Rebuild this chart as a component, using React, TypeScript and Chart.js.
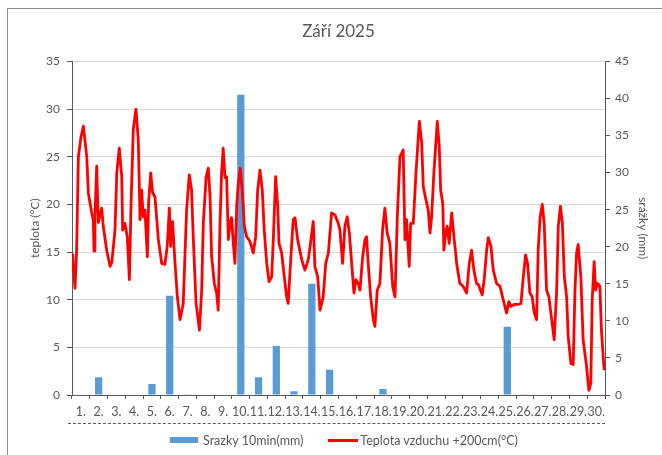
import React, { useEffect, useRef } from "react";
import { Chart, registerables } from "chart.js";

Chart.register(...registerables);

const FONT = "Lato, 'Open Sans', sans-serif";
const TEXT = "#595959";

const dayLabels = [
  "1.", "2.", "3.", "4.", "5.", "6.", "7.", "8.", "9.", "10.",
  "11.", "12.", "13.", "14.", "15.", "16.", "17.", "18.", "19.", "20.",
  "21.", "22.", "23.", "24.", "25.", "26.", "27.", "28.", "29.", "30.",
];

// daily precipitation (mm), right axis
const rainMm = [
  0, 2.4, 0, 0, 1.5, 13.4, 0.1, 0, 0, 40.5,
  2.4, 6.6, 0.5, 15.0, 3.4, 0, 0, 0.8, 0, 0,
  0, 0, 0, 0, 9.2, 0.1, 0, 0, 0, 0,
];

// time in days since start of 1 September
const tempTimes = [
  0.00, 0.04, 0.17, 0.26, 0.36, 0.50, 0.64, 0.83, 0.92, 1.11,
  1.20, 1.24, 1.29, 1.39, 1.48, 1.67, 1.76, 1.95, 2.14, 2.24,
  2.42, 2.52, 2.66, 2.80, 2.85, 2.98, 3.11, 3.23, 3.32, 3.45,
  3.60, 3.73, 3.83, 3.92, 4.01, 4.11, 4.24, 4.31, 4.43, 4.54,
  4.67, 4.86, 5.05, 5.23, 5.36, 5.48, 5.55, 5.66, 5.80, 5.93,
  6.08, 6.26, 6.45, 6.60, 6.73, 6.83, 6.98, 7.17, 7.30, 7.39,
  7.55, 7.67, 7.77, 7.86, 8.01, 8.14, 8.23, 8.33, 8.42, 8.51,
  8.61, 8.70, 8.80, 8.89, 8.98, 9.08, 9.17, 9.27, 9.36, 9.47,
  9.58, 9.70, 9.83, 10.02, 10.20, 10.34, 10.45, 10.58, 10.71, 10.82,
  10.96, 11.09, 11.24, 11.33, 11.46, 11.58, 11.65, 11.80, 11.95, 12.08,
  12.17, 12.32, 12.45, 12.55, 12.70, 12.93, 13.11, 13.30, 13.45, 13.58,
  13.67, 13.83, 13.96, 14.14, 14.28, 14.43, 14.61, 14.80, 14.99, 15.08,
  15.23, 15.36, 15.49, 15.61, 15.74, 15.87, 15.98, 16.11, 16.21, 16.36,
  16.49, 16.58, 16.67, 16.81, 16.96, 17.05, 17.18, 17.33, 17.48, 17.61,
  17.74, 17.89, 18.05, 18.18, 18.31, 18.46, 18.64, 18.74, 18.83, 18.98,
  19.06, 19.21, 19.36, 19.55, 19.68, 19.77, 19.92, 20.05, 20.15, 20.24,
  20.37, 20.56, 20.67, 20.75, 20.87, 20.93, 21.05, 21.12, 21.23, 21.37,
  21.50, 21.65, 21.83, 22.02, 22.21, 22.36, 22.49, 22.62, 22.77, 22.87,
  23.09, 23.20, 23.34, 23.43, 23.58, 23.71, 23.90, 24.09, 24.27, 24.46,
  24.59, 24.70, 24.89, 25.12, 25.27, 25.40, 25.53, 25.64, 25.77, 25.90,
  26.02, 26.15, 26.24, 26.35, 26.47, 26.58, 26.71, 26.84, 27.00, 27.14,
  27.28, 27.37, 27.49, 27.60, 27.71, 27.84, 27.93, 28.08, 28.21, 28.31,
  28.40, 28.49, 28.64, 28.77, 28.96, 29.09, 29.20, 29.28, 29.39, 29.47,
  29.58, 29.71, 29.80, 29.95,
];

// air temperature at 200 cm (°C), left axis
const tempValues = [
  14.7, 14.5, 11.2, 15.2, 25.0, 27.0, 28.2, 25.0, 21.2, 19.1,
  18.3, 15.1, 18.7, 24.0, 18.1, 19.6, 17.7, 15.2, 13.5, 13.9,
  17.3, 23.3, 25.9, 22.9, 17.3, 18.0, 16.6, 12.1, 19.8, 27.9,
  30.0, 26.8, 18.4, 21.5, 18.7, 19.4, 14.5, 20.1, 23.3, 21.2,
  20.8, 16.3, 13.8, 13.7, 15.6, 19.6, 15.6, 18.2, 13.8, 10.3,
  7.9, 9.6, 19.4, 23.1, 21.5, 16.3, 9.7, 6.8, 11.0, 18.0,
  22.9, 23.8, 20.8, 14.5, 11.7, 10.7, 8.9, 18.0, 23.3, 25.9,
  22.8, 22.9, 16.3, 18.0, 18.6, 15.9, 13.8, 19.8, 22.2, 23.8,
  21.5, 17.7, 16.6, 16.1, 14.9, 16.6, 21.5, 23.6, 21.5, 17.3,
  13.8, 11.9, 12.4, 16.3, 22.9, 19.8, 15.9, 14.9, 12.4, 10.3,
  9.6, 14.5, 18.4, 18.6, 16.3, 14.2, 13.1, 14.2, 16.3, 18.2,
  13.5, 12.4, 8.9, 10.3, 13.8, 14.9, 19.1, 18.9, 18.0, 17.3,
  13.8, 17.7, 18.7, 17.0, 13.8, 10.7, 12.1, 11.7, 11.0, 14.5,
  16.3, 16.6, 13.8, 10.3, 7.9, 7.2, 11.0, 11.7, 17.3, 19.6,
  17.0, 15.9, 11.4, 10.3, 18.7, 25.0, 25.7, 16.3, 18.4, 13.5,
  18.0, 18.0, 23.3, 28.7, 26.5, 21.9, 20.5, 19.4, 17.0, 18.7,
  23.3, 28.7, 26.1, 21.5, 20.1, 15.2, 17.3, 17.7, 15.9, 19.1,
  16.6, 13.8, 11.7, 11.4, 10.7, 13.8, 15.2, 13.1, 11.7, 11.6,
  10.5, 12.1, 15.2, 16.5, 15.6, 13.1, 11.7, 11.4, 10.0, 8.6,
  9.8, 9.3, 9.5, 9.5, 9.6, 12.4, 14.7, 13.8, 10.7, 10.3,
  8.6, 7.9, 15.2, 18.7, 20.0, 17.9, 11.0, 10.3, 7.9, 5.8,
  11.0, 17.7, 19.8, 18.0, 12.4, 10.3, 6.1, 3.3, 3.2, 11.0,
  14.9, 15.8, 12.4, 5.8, 3.0, 0.5, 1.2, 10.0, 14.0, 11.0,
  11.7, 11.4, 6.8, 2.6,
];

const CANVAS_LEFT = 15;
const CANVAS_W = 647;
const CANVAS_H = 455;

export default function App() {
  const ref = useRef<HTMLCanvasElement>(null);

  useEffect(() => {
    document.body.style.margin = "0";
    document.body.style.overflow = "hidden";
    const canvas = ref.current!;
    const font = { family: FONT, size: 12 };
    const chart = new Chart(canvas, {
      type: "bar",
      data: {
        labels: dayLabels,
        datasets: [
          {
            type: "line",
            label: "Teplota vzduchu +200cm(°C)",
            data: tempTimes.map((t, i) => ({ x: t, y: tempValues[i] })),
            borderColor: "#FF0000",
            backgroundColor: "#FF0000",
            borderWidth: 2.8,
            pointRadius: 0,
            tension: 0,
            borderJoinStyle: "round",
            xAxisID: "xt",
            yAxisID: "y",
            order: 1,
          } as any,
          {
            type: "bar",
            label: "Srazky 10min(mm)",
            data: rainMm,
            backgroundColor: "#5B9BD5",
            barPercentage: 0.41,
            categoryPercentage: 1,
            grouped: false,
            xAxisID: "x",
            yAxisID: "yR",
            order: 2,
          },
        ],
      },
      options: {
        responsive: false,
        animation: false,
        layout: { padding: 0 },
        plugins: {
          legend: { display: false },
          tooltip: { enabled: false },
          title: {
            display: true,
            text: "Září 2025",
            color: TEXT,
            font: { family: FONT, size: 17, weight: "normal" },
            padding: { top: 21, bottom: 20 },
          },
        },
        scales: {
          x: {
            type: "category",
            offset: true,
            grid: {
              drawOnChartArea: false,
              offset: true,
              tickLength: 4,
              tickColor: TEXT,
            },
            border: { color: TEXT },
            ticks: {
              color: TEXT,
              font: { family: FONT, size: 12.5 },
              autoSkip: false,
              maxRotation: 0,
              minRotation: 0,
              padding: 5,
            },
            afterFit: (s: any) => {
              s.height = 60;
            },
          },
          xt: {
            type: "linear",
            min: 0,
            max: 30,
            offset: false,
            display: false,
          },
          y: {
            position: "left",
            min: 0,
            max: 35,
            ticks: { stepSize: 5, color: TEXT, font, padding: 7 },
            grid: { color: "#D9D9D9", tickColor: TEXT, tickLength: 5 },
            border: { color: TEXT },
            title: {
              display: true,
              text: "teplota (°C)",
              color: TEXT,
              font,
              padding: { top: 13, bottom: 0 },
            },
            afterFit: (s: any) => {
              s.width = 57;
            },
          },
          yR: {
            position: "right",
            min: 0,
            max: 45,
            ticks: { stepSize: 5, color: TEXT, font, padding: 5 },
            grid: { drawOnChartArea: false, tickColor: TEXT, tickLength: 5 },
            border: { color: TEXT },
            title: {
              display: true,
              text: "srážky (mm)",
              color: TEXT,
              font,
              padding: { top: 12, bottom: 0 },
            },
            afterFit: (s: any) => {
              s.width = 57;
            },
          },
        },
      } as any,
    });
    return () => chart.destroy();
  }, []);

  return (
    <div
      style={{
        position: "relative",
        width: 662,
        height: 455,
        overflow: "hidden",
        background: "#fff",
        fontFamily: FONT,
      }}
    >
      <div
        style={{
          position: "absolute",
          left: 7,
          top: 8,
          width: 700,
          height: 500,
          borderTop: "1px solid #8c8c8c",
          borderLeft: "1px solid #8c8c8c",
        }}
      />
      <canvas
        ref={ref}
        width={CANVAS_W}
        height={CANVAS_H}
        style={{ position: "absolute", left: CANVAS_LEFT, top: 0, width: CANVAS_W, height: CANVAS_H }}
      />
      <div
        style={{
          position: "absolute",
          left: 68,
          top: 423,
          width: 537,
          borderTop: "1px dashed #595959",
        }}
      />
      <div
        style={{
          position: "absolute",
          left: 170,
          top: 431,
          height: 18,
          display: "flex",
          alignItems: "center",
          fontSize: 12.5,
          color: TEXT,
          whiteSpace: "nowrap",
        }}
      >
        <span style={{ display: "inline-block", width: 28, height: 6, background: "#5B9BD5", marginRight: 5 }} />
        <span>Srazky 10min(mm)</span>
        <span style={{ display: "inline-block", width: 30, height: 3, background: "#FF0000", marginLeft: 25, marginRight: 2 }} />
        <span>Teplota vzduchu +200cm(°C)</span>
      </div>
    </div>
  );
}
